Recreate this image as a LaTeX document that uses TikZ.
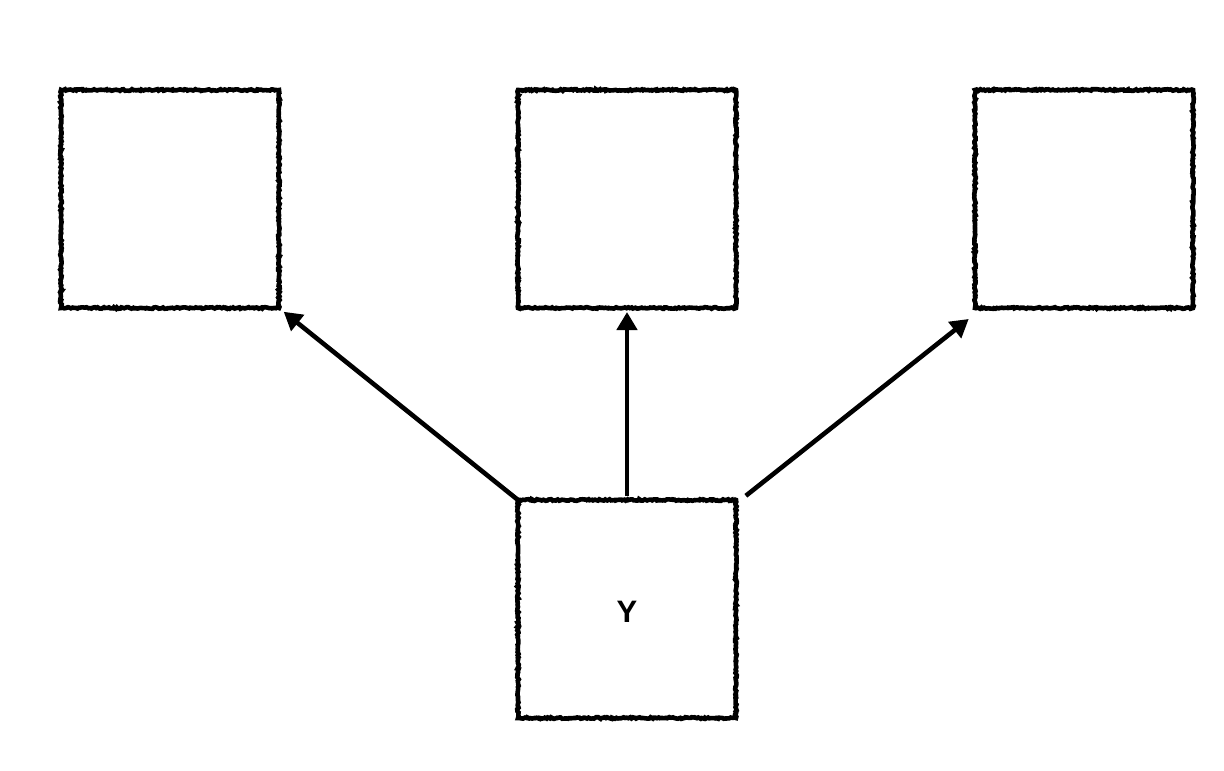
\documentclass[tikz,border=0pt]{standalone}
\usepackage{fontspec}
\setmainfont{Liberation Sans}
\usetikzlibrary{arrows.meta,decorations.pathmorphing}
\begin{document}
\begin{tikzpicture}[x=0.5pt,y=-0.5pt,
  box/.style={draw=black, line width=2.3pt, minimum width=109pt, minimum height=109pt,
    inner sep=0pt, outer sep=0pt,
    decoration={random steps, segment length=0.8pt, amplitude=0.4pt},
    decorate},
  link/.style={line width=2.3pt, -{Triangle[length=9pt,width=10pt]}},
  lbl/.style={font=\fontsize{15.5}{18}\selectfont\bfseries}]
\pgfmathsetseed{7}
\useasboundingbox (0,0) rectangle (1224,770);
\node[box] (l) at (170,199) {};
\node[box] (m) at (627,199) {};
\node[box] (r) at (1084,199) {};
\node[box] (b) at (627,609) {};
\node[lbl] (y) at (627,612) {Y};
\draw[link, shorten <=-2pt, shorten >=3pt] (b.north west) -- (l.south east);
\draw[link, shorten <=2pt, shorten >=2pt] (b.north) -- (m.south);
\draw[link, shorten <=5pt, shorten >=4pt] ([xshift=1pt,yshift=-1pt]b.north east) -- ([yshift=-3pt]r.south west);
\end{tikzpicture}
\end{document}
